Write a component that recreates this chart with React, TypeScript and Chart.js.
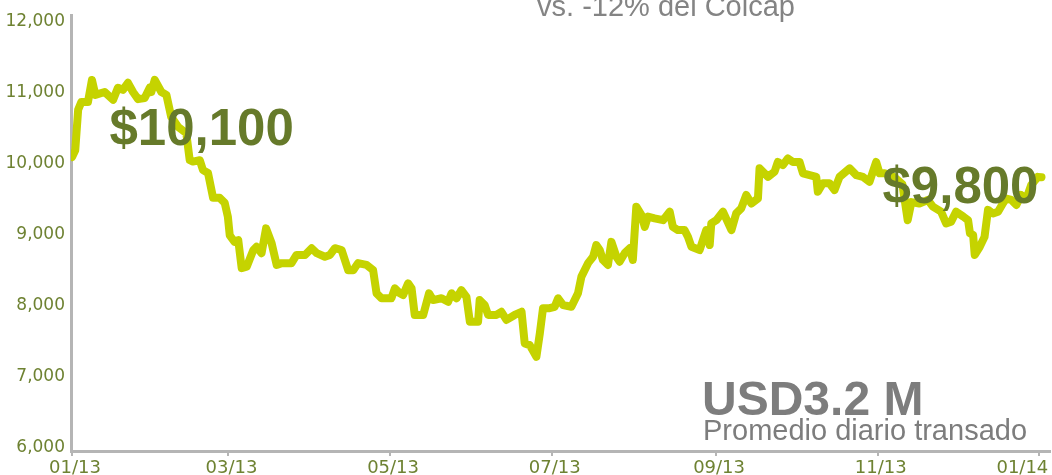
import { useEffect, useRef } from "react";
import { Chart, registerables } from "chart.js";

Chart.register(...registerables);

// Day offsets from 01/01/2013
const days = [
  0, 1.2, 2.3, 3.5, 6.0, 7.5, 8.8, 12.3, 15.5, 17.3, 19.2, 21.1, 23.0, 24.9, 27.4, 29.3, 29.9, 31.2, 33.7, 35.6,
  37.4, 40.0, 43.1, 44.4, 45.6, 48.2, 49.4, 51.3, 53.2, 55.7, 57.6, 58.8, 59.5, 61.3, 62.7, 64.0, 65.9, 68.4, 69.6, 71.5,
  73.2, 75.3, 77.2, 79.1, 82.8, 84.7, 87.9, 90.4, 92.3, 95.4, 97.3, 99.2, 101.7, 104.2, 106.1, 107.9, 111.1, 113.6, 114.9, 116.8,
  120.5, 121.8, 123.7, 124.9, 126.8, 128.1, 129.3, 132.5, 134.7, 136.2, 139.4, 141.9, 143.2, 145.1, 146.9, 148.8, 150.1, 153.2, 153.8, 155.7,
  157.0, 160.1, 162.0, 163.9, 167.0, 169.6, 170.8, 172.7, 175.2, 176.5, 177.7, 180.2, 182.1, 183.4, 185.3, 188.4, 190.9, 192.2, 194.7, 196.6,
  197.8, 199.1, 200.3, 202.2, 203.5, 205.4, 206.6, 208.5, 210.4, 211.6, 212.9, 214.8, 216.1, 217.3, 219.8, 223.0, 225.5, 226.7, 228.6, 231.1,
  232.4, 233.7, 236.8, 239.3, 240.6, 241.2, 243.1, 245.6, 248.8, 250.6, 252.5, 254.4, 256.3, 258.8, 259.4, 262.6, 265.1, 266.3, 268.2, 270.1,
  272.0, 274.5, 275.8, 278.3, 280.8, 281.4, 283.3, 285.8, 287.7, 289.6, 293.4, 295.9, 298.4, 300.9, 303.4, 304.7, 306.6, 310.3, 313.3, 315.3,
  316.7, 319.7, 322.9, 324.8, 327.9, 329.8, 331.7, 333.6, 336.3, 338.1, 338.8, 340.0, 340.6, 342.5, 344.3, 345.6, 347.5, 349.4, 351.2, 352.5,
  354.4, 356.3, 358.1, 360.1, 361.9, 364.4, 365.8,
];

const prices = [
  10085, 10180, 10750, 10860, 10860, 11170, 10960, 11000, 10890, 11060, 11030, 11130, 11000, 10900, 10915, 11060, 11000, 11170, 11000, 10960,
  10650, 10510, 10420, 10040, 10020, 10040, 9900, 9860, 9510, 9510, 9440, 9240, 8980, 8890, 8915, 8520, 8540, 8775, 8820, 8730,
  9080, 8870, 8565, 8590, 8590, 8705, 8705, 8800, 8730, 8680, 8705, 8800, 8775, 8490, 8490, 8590, 8565, 8490, 8165, 8095,
  8095, 8235, 8165, 8140, 8305, 8235, 7860, 7860, 8165, 8070, 8095, 8045, 8165, 8095, 8210, 8115, 7765, 7765, 8070, 8000,
  7860, 7860, 7905, 7790, 7860, 7905, 7460, 7435, 7270, 7600, 7955, 7955, 7975, 8095, 8000, 7975, 8165, 8400, 8590, 8680,
  8845, 8775, 8635, 8565, 8890, 8680, 8610, 8730, 8800, 8635, 9385, 9270, 9100, 9245, 9220, 9195, 9315, 9100, 9055, 9055,
  8960, 8820, 8775, 9055, 8845, 9150, 9195, 9315, 9055, 9290, 9360, 9550, 9430, 9500, 9925, 9805, 9880, 10015, 9970, 10065,
  10015, 10015, 9855, 9830, 9805, 9595, 9715, 9715, 9620, 9805, 9925, 9830, 9805, 9735, 10015, 9855, 9855, 9800, 9700, 9195,
  9450, 9430, 9480, 9385, 9315, 9150, 9175, 9315, 9245, 9195, 9010, 8985, 8705, 8820, 8960, 9340, 9290, 9315, 9430, 9500,
  9480, 9410, 9550, 9500, 9690, 9805, 9800,
];

const tickDays = [0, 59, 120, 181, 243, 304, 365];
const tickLabels = ["01/13", "03/13", "05/13", "07/13", "09/13", "11/13", "01/14"];
const yTickValues = [6000, 7000, 8000, 9000, 10000, 11000, 12000];

const titleText = "vs. -12% del Colcap";
const startLabel = "$10,100";
const endLabel = "$9,800";
const volumeLabel = "USD3.2 M";
const volumeCaption = "Promedio diario transado";

const LINE = "#c5d300";
const OLIVE = "#6e8232";
const DARK_OLIVE = "#667a2a";
const GRAY = "#7d7d7d";
const AXIS = "#b5b5b5";

const annotations = {
  id: "annotations",
  afterDatasetsDraw(chart: any) {
    const ctx = chart.ctx;
    ctx.save();
    ctx.textBaseline = "alphabetic";
    ctx.textAlign = "center";
    ctx.fillStyle = "#848484";
    ctx.font = "29px 'Liberation Sans', Arial, sans-serif";
    ctx.fillText(titleText, 666, 15.5);

    ctx.textAlign = "left";
    ctx.fillStyle = DARK_OLIVE;
    ctx.font = "bold 51px 'Liberation Sans', Arial, sans-serif";
    ctx.fillText(startLabel, 109.5, 145);
    ctx.fillText(endLabel, 882.5, 203);

    ctx.fillStyle = GRAY;
    ctx.font = "bold 48px 'Liberation Sans', Arial, sans-serif";
    ctx.fillText(volumeLabel, 702, 415);
    ctx.font = "29px 'Liberation Sans', Arial, sans-serif";
    ctx.fillText(volumeCaption, 703, 440);
    ctx.restore();
  },
};

export default function App() {
  const ref = useRef<HTMLCanvasElement>(null);

  useEffect(() => {
    if (!ref.current) return;
    const chart = new Chart(ref.current, {
      type: "line",
      data: {
        datasets: [
          {
            data: days.map((d, i) => ({ x: d, y: prices[i] })),
            borderColor: LINE,
            borderWidth: 8,
            pointRadius: 0,
            tension: 0,
            borderJoinStyle: "round",
            borderCapStyle: "round",
            fill: false,
          },
        ],
      },
      options: {
        responsive: false,
        animation: false,
        devicePixelRatio: 1,
        layout: { autoPadding: false, padding: { top: 15, right: 2, left: 0, bottom: 0 } },
        plugins: { legend: { display: false }, tooltip: { enabled: false } },
        scales: {
          x: {
            type: "linear",
            min: -0.4,
            max: 369,
            afterBuildTicks: (scale: any) => {
              scale.ticks = tickDays.map((v) => ({ value: v }));
            },
            afterFit: (scale: any) => {
              scale.height = 24;
              scale.paddingLeft = 0;
              scale.paddingRight = 0;
            },
            ticks: {
              autoSkip: false,
              maxRotation: 0,
              padding: 2,
              labelOffset: 3,
              color: OLIVE,
              font: { family: "'DejaVu Sans', sans-serif", size: 18 },
              callback: (_v: any, i: number) =>
                i === tickLabels.length - 1 ? tickLabels[i] + "       " : tickLabels[i],
            },
            grid: {
              drawOnChartArea: false,
              drawTicks: true,
              tickLength: 5,
              color: AXIS,
              lineWidth: 2,
            },
            border: { display: true, color: AXIS, width: 3 },
          },
          y: {
            type: "linear",
            min: 5944,
            max: 12085,
            afterBuildTicks: (scale: any) => {
              scale.ticks = yTickValues.map((v) => ({ value: v }));
            },
            afterFit: (scale: any) => {
              scale.width = 71;
              scale.paddingTop = 0;
              scale.paddingBottom = 0;
            },
            ticks: {
              padding: 6,
              labelOffset: 1,
              color: OLIVE,
              font: { family: "'DejaVu Sans', sans-serif", size: 17 },
              callback: (v: any) => Number(v).toLocaleString("en-US"),
            },
            grid: { display: false, drawTicks: false },
            border: { display: true, color: AXIS, width: 3 },
          },
        },
      },
      plugins: [annotations],
    });
    return () => chart.destroy();
  }, []);

  return (
    <div style={{ position: "absolute", left: 0, top: 0, width: 1052, height: 475, background: "#fff" }}>
      <canvas ref={ref} width={1052} height={475} style={{ display: "block" }} />
    </div>
  );
}
